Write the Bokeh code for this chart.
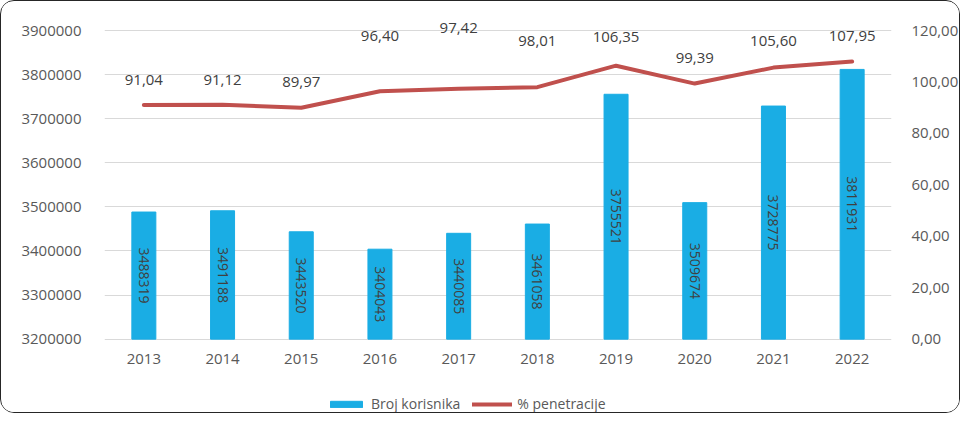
from bokeh.plotting import figure
from bokeh.models import (ColumnDataSource, Range1d, LinearAxis, FixedTicker,
                          CustomJSTickFormatter, Legend, LegendItem, BasicTickFormatter)
from bokeh.core.properties import value
from bokeh.embed import file_html
from bokeh.resources import INLINE
import math

years = ["2013", "2014", "2015", "2016", "2017", "2018", "2019", "2020", "2021", "2022"]
users = [3488319, 3491188, 3443520, 3404043, 3440085, 3461058, 3755521, 3509674, 3728775, 3811931]
penetration = [91.04, 91.12, 89.97, 96.40, 97.42, 98.01, 106.35, 99.39, 105.60, 107.95]
left_ticks = [3200000, 3300000, 3400000, 3500000, 3600000, 3700000, 3800000, 3900000]
right_ticks = [0, 20, 40, 60, 80, 100, 120]

# styling: pixel offsets (up is negative) of the line's value labels
label_dy = [-25, -25, -26, -55, -61, -46, -29, -26, -27, -26]

FONT = "Open Sans"
BLUE = "#1AADE4"
RED = "#C0504D"
TXT = "#404040"
AX = "#595959"

# layout (pixels)
W, H = 960, 413
TOP, LEFT, RIGHT = 11, 103, 62
HEAD = 18             # room above the top gridline for the value labels
AXIS_H = 307          # height of the value-axis span (3200000..3900000)
EXTRA = (H - 2) - TOP - HEAD - AXIS_H   # room below the axis for years + legend

base = left_ticks[0]
span_l = left_ticks[-1] - left_ticks[0]
span_r = right_ticks[-1] - right_ticks[0]
y_lo = base - span_l * EXTRA / AXIS_H
y_hi = left_ticks[-1] + span_l * HEAD / AXIS_H
r_lo = right_ticks[0] - span_r * EXTRA / AXIS_H
r_hi = right_ticks[-1] + span_r * HEAD / AXIS_H

src = ColumnDataSource(dict(
    x=years, top=users, bottom=[base] * len(users),
    mid=[(u + base) / 2 for u in users],
    ulab=[str(u) for u in users],
    pct=penetration,
    plab=[("%.2f" % v).replace(".", ",") for v in penetration],
    dy=label_dy,
))

p = figure(x_range=years, y_range=Range1d(y_lo, y_hi),
           width=W, height=H, output_backend="svg", toolbar_location=None,
           min_border_left=LEFT, min_border_right=RIGHT, min_border_top=TOP, min_border_bottom=0)
p.x_range.range_padding = 0
p.extra_y_ranges = {"pct": Range1d(r_lo, r_hi)}
p.outline_line_color = None
p.background_fill_color = "white"
p.border_fill_color = "white"
p.styles = {"border": "1px solid #262626", "border-radius": "14px", "overflow": "hidden"}

bars = p.vbar(x="x", top="top", bottom="bottom", width=0.305, source=src,
              fill_color=BLUE, line_color=BLUE)
line = p.line(x="x", y="pct", source=src, y_range_name="pct",
              line_color=RED, line_width=4, line_join="round", line_cap="round")

p.text(x="x", y="mid", text="ulab", source=src, angle=-math.pi / 2,
       text_align="center", text_baseline="middle", text_font=value(FONT),
       text_font_size="14px", text_color=TXT)
p.text(x="x", y="pct", text="plab", source=src, y_range_name="pct", y_offset="dy",
       text_align="center", text_baseline="middle", text_font=value(FONT),
       text_font_size="15px", text_color=TXT)

# axes
p.yaxis.ticker = FixedTicker(ticks=left_ticks)
p.yaxis.formatter = BasicTickFormatter(use_scientific=False)
ax_r = LinearAxis(y_range_name="pct", ticker=FixedTicker(ticks=right_ticks),
                  formatter=CustomJSTickFormatter(code="return tick.toFixed(2).replace('.', ',');"))
p.add_layout(ax_r, "right")
p.xaxis.fixed_location = base
for ax in [p.yaxis[0], ax_r, p.xaxis[0]]:
    ax.axis_line_color = None
    ax.major_tick_line_color = None
    ax.minor_tick_line_color = None
    ax.major_label_text_font = FONT
    ax.major_label_text_font_size = "15px"
    ax.major_label_text_color = AX
p.yaxis[0].major_label_standoff = 17
ax_r.major_label_standoff = 14
p.xaxis.major_label_standoff = 9

p.xgrid.grid_line_color = None
p.ygrid.grid_line_color = "#D9D9D9"
p.ygrid.grid_line_width = 1

legend = Legend(items=[LegendItem(label="Broj korisnika", renderers=[bars]),
                       LegendItem(label="% penetracije", renderers=[line])],
                orientation="horizontal", location=(222, 1),
                label_text_font=FONT, label_text_font_size="14px", label_text_color=AX,
                glyph_width=40, glyph_height=8, label_standoff=5, spacing=12,
                padding=0, margin=0, border_line_color=None, background_fill_alpha=0)
p.add_layout(legend, "center")

open("out.html", "w").write(file_html(p, INLINE))
